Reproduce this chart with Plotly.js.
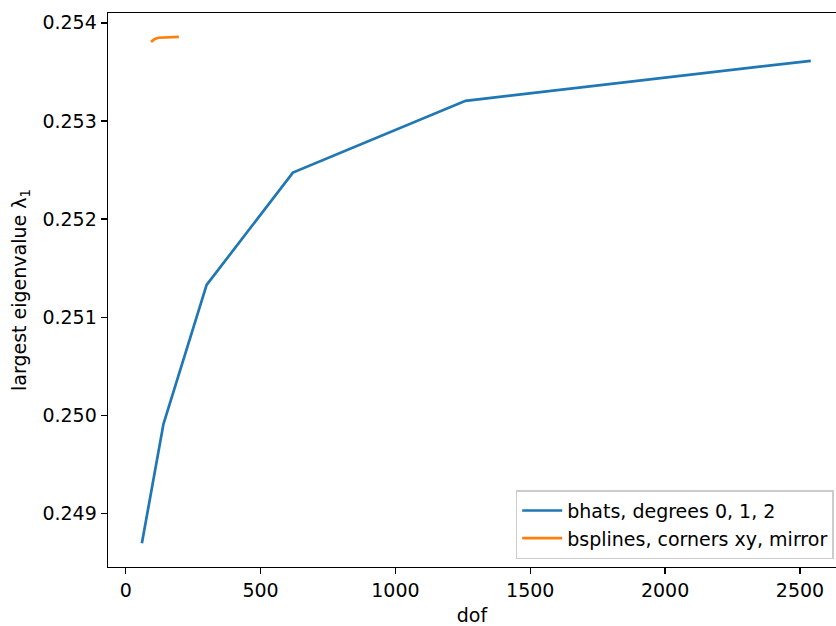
<!DOCTYPE html>
<html>
<head>
<meta charset="utf-8">
<script src="https://cdn.plot.ly/plotly-3.0.1.min.js"></script>
<style>html,body{margin:0;padding:0;background:#fff;}</style>
</head>
<body>
<div id="chart" style="width:836px;height:626px;"></div>
<script>
const bhatsDof = [60, 140, 300, 620, 1260, 2540];
const bhatsLambda = [0.248696, 0.249912, 0.251329, 0.252474, 0.253205, 0.253613];
const bsplDof = [94, 108, 122, 150, 197];
const bsplLambda = [0.253806, 0.253836, 0.253848, 0.253853, 0.253857];
const xTicks = [0, 500, 1000, 1500, 2000, 2500];
const yTicks = [0.249, 0.250, 0.251, 0.252, 0.253, 0.254];

const font = {family: 'DejaVu Sans', size: 19, color: '#000'};
const traces = [
  {x: bhatsDof, y: bhatsLambda, mode: 'lines', name: 'bhats, degrees 0, 1, 2',
   legendgroup: 'a', line: {color: '#1f77b4', width: 2.7}},
  {x: bsplDof, y: bsplLambda, mode: 'lines', name: 'bsplines, corners xy, mirror',
   legendgroup: 'b', line: {color: '#ff7f0e', width: 2.7}}
];
const layout = {
  width: 836, height: 626,
  margin: {l: 108, r: 0, t: 12.5, b: 59},
  paper_bgcolor: '#fff', plot_bgcolor: '#fff',
  font: font,
  showlegend: true,
  xaxis: {
    range: [-65.6, 2633.6], tickvals: xTicks, ticktext: xTicks.map(String),
    showgrid: false, zeroline: false, showline: true, mirror: true,
    linecolor: '#000', linewidth: 1.4, ticks: 'outside', ticklen: 6,
    tickwidth: 1.4, tickcolor: '#000', tickfont: font,
    title: {text: 'dof', font: font, standoff: 11}
  },
  yaxis: {
    range: [0.248455, 0.2541], tickvals: yTicks, ticktext: yTicks.map(v => v.toFixed(3)),
    showgrid: false, zeroline: false, showline: true, mirror: false,
    linecolor: '#000', linewidth: 1.4, ticks: 'outside', ticklen: 6,
    tickwidth: 1.4, tickcolor: '#000', tickfont: font,
    title: {text: 'largest eigenvalue λ<sub>1</sub>', font: font, standoff: 10}
  },
  legend: {
    x: 0.997, y: 0.014, xanchor: 'right', yanchor: 'bottom',
    bgcolor: 'rgba(255,255,255,0.8)', bordercolor: '#cccccc', borderwidth: 1.4,
    font: font, traceorder: 'grouped', tracegroupgap: 0, itemwidth: 40
  }
};
Plotly.newPlot('chart', traces, layout, {displayModeBar: false, staticPlot: true});
</script>
</body>
</html>
